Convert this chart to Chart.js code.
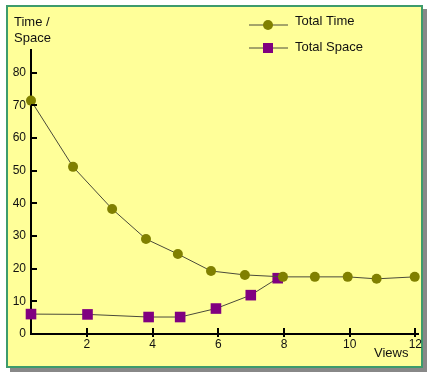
<!DOCTYPE html>
<html lang="en">
<head>
    <meta charset="UTF-8">
    <title>Time / Space vs Views</title>
    <style>
        body { margin: 0; background: #fff; }
        #frame {
            position: absolute; left: 6px; top: 5px; width: 413px; height: 359px;
            background: #ffff99; border: 2px solid #3d9b6c; box-shadow: 4px 4px 0 #888;
        }
        #wrap { position: absolute; left: 0; top: 0; width: 427px; height: 372px; }
    </style>
</head>
<body>
    <div id="frame"></div>
    <div id="wrap"><canvas id="chart" width="427" height="372"></canvas></div>

    <script src="https://cdn.jsdelivr.net/npm/chart.js@4/dist/chart.umd.min.js"></script>
    <script>
        // values
        const timeViews = [0.3, 1.58, 2.77, 3.8, 4.77, 5.78, 6.81, 7.97, 8.94, 9.94, 10.82, 11.98];
        const totalTime = [71.5, 51.2, 38.3, 29.1, 24.5, 19.3, 18.1, 17.5, 17.5, 17.5, 16.9, 17.5];
        const spaceViews = [0.3, 2.02, 3.88, 4.84, 5.93, 6.99, 7.81];
        const totalSpace = [6.1, 6.0, 5.2, 5.2, 7.8, 11.9, 17.1];
        const xTicks = [2, 4, 6, 8, 10, 12];
        const yTicks = [0, 10, 20, 30, 40, 50, 60, 70, 80];

        const FONT = 'Liberation Sans, Arial, sans-serif';
        const olive = '#808000';
        const purple = '#800080';
        const lineCol = '#4a4a3a';

        // tick marks inside the plot plus the hand-made legend and labels
        const decor = {
            id: 'decor',
            afterDraw(chart) {
                const ctx = chart.ctx;
                const xs = chart.scales.x, ys = chart.scales.y;
                const area = chart.chartArea;
                ctx.save();
                ctx.strokeStyle = '#000';
                ctx.lineWidth = 2;
                xTicks.forEach(v => {
                    const px = Math.round(xs.getPixelForValue(v));
                    ctx.beginPath();
                    ctx.moveTo(px, area.bottom - 6);
                    ctx.lineTo(px, area.bottom + 3);
                    ctx.stroke();
                });
                yTicks.forEach(v => {
                    const py = Math.round(ys.getPixelForValue(v));
                    ctx.beginPath();
                    ctx.moveTo(area.left, py);
                    ctx.lineTo(area.left + 6, py);
                    ctx.stroke();
                });

                ctx.fillStyle = '#111';
                ctx.font = '13px ' + FONT;
                ctx.textBaseline = 'middle';
                ctx.textAlign = 'left';
                ctx.fillText('Time /', 14, 22);
                ctx.fillText('Space', 14, 38);
                ctx.fillText('Views', 374, 353);

                // legend
                const items = [
                    { y: 25, ty: 21, text: 'Total Time', color: olive, shape: 'circle' },
                    { y: 48, ty: 47, text: 'Total Space', color: purple, shape: 'rect' }
                ];
                items.forEach(it => {
                    ctx.strokeStyle = lineCol;
                    ctx.lineWidth = 1;
                    ctx.beginPath();
                    ctx.moveTo(249, it.y);
                    ctx.lineTo(288, it.y);
                    ctx.stroke();
                    ctx.fillStyle = it.color;
                    if (it.shape === 'circle') {
                        ctx.beginPath();
                        ctx.arc(268, it.y, 5, 0, Math.PI * 2);
                        ctx.fill();
                    } else {
                        ctx.fillRect(263, it.y - 5, 10, 10);
                    }
                    ctx.fillStyle = '#111';
                    ctx.fillText(it.text, 295, it.ty);
                });
                ctx.restore();
            }
        };

        new Chart(document.getElementById('chart'), {
            type: 'scatter',
            data: {
                datasets: [{
                    label: 'Total Time',
                    data: timeViews.map((v, i) => ({ x: v, y: totalTime[i] })),
                    showLine: true,
                    borderColor: lineCol,
                    borderWidth: 1,
                    pointStyle: 'circle',
                    pointRadius: 5,
                    pointBackgroundColor: olive,
                    pointBorderWidth: 0,
                    clip: false
                }, {
                    label: 'Total Space',
                    data: spaceViews.map((v, i) => ({ x: v, y: totalSpace[i] })),
                    showLine: true,
                    borderColor: lineCol,
                    borderWidth: 1,
                    pointStyle: 'rect',
                    pointRadius: 7.5,
                    pointBackgroundColor: purple,
                    pointBorderWidth: 0,
                    clip: false
                }]
            },
            options: {
                responsive: false,
                animation: false,
                layout: { padding: { left: 0, top: 50, right: 9, bottom: 0 } },
                plugins: { legend: { display: false }, tooltip: { enabled: false } },
                scales: {
                    x: {
                        type: 'linear',
                        min: 0.3,
                        max: 12.08,
                        afterBuildTicks: s => { s.ticks = xTicks.map(v => ({ value: v })); },
                        afterFit: s => { s.height = 38; },
                        grid: { display: false, drawTicks: false },
                        border: { display: true, color: '#000', width: 2 },
                        ticks: { color: '#111', font: { family: FONT, size: 12 }, padding: 3, maxRotation: 0 }
                    },
                    y: {
                        min: 0,
                        max: 87,
                        afterBuildTicks: s => { s.ticks = yTicks.map(v => ({ value: v })); },
                        afterFit: s => { s.width = 31; },
                        grid: { display: false, drawTicks: false },
                        border: { display: true, color: '#000', width: 2 },
                        ticks: { color: '#111', font: { family: FONT, size: 12 }, padding: 5 }
                    }
                }
            },
            plugins: [decor]
        });
    </script>
</body>
</html>
